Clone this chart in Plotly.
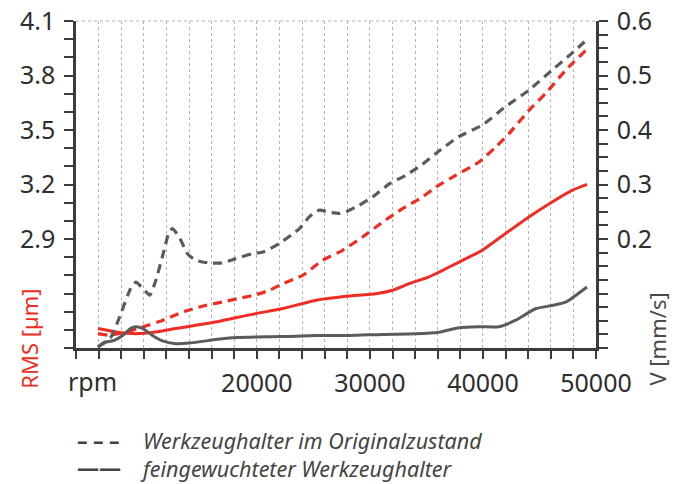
import plotly.graph_objects as go

# ---------------- data ----------------
# Werkzeughalter im Originalzustand, vibration velocity V [mm/s] (grey dashed, right axis)
orig_v_rpm = [5950, 7090, 7820, 8850, 9300, 9880, 10530, 11060, 11790, 12230, 12530, 13120,
              13860, 14590, 15760, 16940, 18120, 19590, 20530, 22000, 23770, 24650, 25530,
              26410, 27290, 27890, 29060, 30230, 31710, 33180, 34650, 35830, 37880, 39940,
              42000, 44060, 46120, 47880, 49200]
orig_v = [0.002, 0.020, 0.055, 0.110, 0.121, 0.110, 0.097, 0.124, 0.179, 0.213, 0.219, 0.204,
          0.173, 0.161, 0.156, 0.156, 0.164, 0.173, 0.176, 0.192, 0.219, 0.241, 0.253,
          0.249, 0.247, 0.250, 0.262, 0.277, 0.301, 0.317, 0.337, 0.357, 0.388, 0.409,
          0.443, 0.473, 0.510, 0.541, 0.566]

# Werkzeughalter im Originalzustand, RMS [µm] (red dashed, left axis)
orig_rms_rpm = [5950, 6940, 8410, 9890, 11650, 13420, 15180, 16940, 18710, 19730, 21120,
                22290, 24060, 25820, 27590, 29350, 31120, 32880, 34650, 35830, 37590, 39650,
                41120, 42300, 44060, 45530, 47300, 49200]
orig_rms = [2.379, 2.370, 2.388, 2.416, 2.452, 2.498, 2.530, 2.553, 2.577, 2.590, 2.618,
            2.654, 2.700, 2.783, 2.838, 2.911, 2.993, 3.067, 3.131, 3.186, 3.250, 3.324,
            3.406, 3.480, 3.608, 3.700, 3.828, 3.945]

# feingewuchteter Werkzeughalter, RMS [µm] (red solid, left axis)
fine_rms_rpm = [5950, 7530, 9290, 11060, 12820, 14590, 16350, 18120, 19880, 22290, 25240,
                27890, 30530, 32000, 33470, 35240, 36120, 37880, 39940, 42000, 44060,
                46120, 47880, 49200]
fine_rms = [2.407, 2.388, 2.379, 2.388, 2.407, 2.425, 2.443, 2.467, 2.489, 2.517, 2.563,
            2.585, 2.599, 2.618, 2.654, 2.692, 2.718, 2.773, 2.838, 2.930, 3.021,
            3.104, 3.168, 3.201]

# feingewuchteter Werkzeughalter, V [mm/s] (grey solid, right axis)
fine_v_rpm = [5920, 6650, 7380, 8120, 8850, 9290, 9890, 10770, 11650, 12820, 14000, 15760,
              17830, 19880, 22290, 25240, 28180, 31120, 34060, 36120, 37880, 39650, 41410,
              42890, 44650, 46120, 47300, 49200]
fine_v = [0.002, 0.011, 0.014, 0.023, 0.036, 0.039, 0.036, 0.023, 0.013, 0.008, 0.009, 0.014,
          0.019, 0.020, 0.021, 0.023, 0.023, 0.025, 0.026, 0.029, 0.037, 0.039, 0.039,
          0.051, 0.072, 0.078, 0.084, 0.112]

x_labels = {20000: "20000", 30000: "30000", 40000: "40000", 50000: "50000"}
left_labels = {2.9: "2.9", 3.2: "3.2", 3.5: "3.5", 3.8: "3.8", 4.1: "4.1"}
right_labels = {0.2: "0.2", 0.3: "0.3", 0.4: "0.4", 0.5: "0.5", 0.6: "0.6"}

legend_orig = "Werkzeughalter im Originalzustand"
legend_fine = "feingewuchteter Werkzeughalter"

# ---------------- styling ----------------
RED = "#ee2e24"
GREY = "#5b5b5b"
AXIS = "#3c3c3c"
TXT = "#2e2e2e"
FONT = "Noto Sans"

fig = go.Figure()
fig.add_trace(go.Scatter(x=orig_v_rpm, y=orig_v, yaxis="y2", mode="lines",
                         line=dict(color=GREY, width=3.2, dash="9px,6px", shape="spline", smoothing=0.5),
                         showlegend=False, hoverinfo="skip"))
fig.add_trace(go.Scatter(x=orig_rms_rpm, y=orig_rms, yaxis="y", mode="lines",
                         line=dict(color=RED, width=3.2, dash="9px,6px", shape="spline", smoothing=0.5),
                         showlegend=False, hoverinfo="skip"))
fig.add_trace(go.Scatter(x=fine_v_rpm, y=fine_v, yaxis="y2", mode="lines",
                         line=dict(color=GREY, width=3, shape="spline", smoothing=0.6),
                         showlegend=False, hoverinfo="skip"))
fig.add_trace(go.Scatter(x=fine_rms_rpm, y=fine_rms, yaxis="y", mode="lines",
                         line=dict(color=RED, width=3, shape="spline", smoothing=0.5),
                         showlegend=False, hoverinfo="skip"))

x_ticks = list(range(4000, 50001, 2000))
left_ticks = [round(2.3 + 0.1 * i, 2) for i in range(19)]
right_ticks = [round(0.025 * i, 3) for i in range(25)]

def lab(d, v):
    for k, s in d.items():
        if abs(k - v) < 1e-6:
            return s
    return ""

tickfont = dict(family=FONT, size=25, color=TXT)

fig.update_layout(
    width=681, height=484, autosize=False,
    margin=dict(l=76, r=85, t=21, b=136, pad=0),
    paper_bgcolor="white", plot_bgcolor="white",
    showlegend=False,
    xaxis=dict(range=[4000, 50000], tickvals=x_ticks, ticktext=[lab(x_labels, v) for v in x_ticks],
               ticks="outside", ticklen=8, tickwidth=2, tickcolor=AXIS,
               showline=True, linecolor=AXIS, linewidth=2.5,
               showgrid=True, gridcolor="#b3b3b3", gridwidth=1, griddash="3px,3px",
               zeroline=False, tickfont=tickfont, ticklabelstandoff=3, fixedrange=True,
               automargin=False),
    yaxis=dict(range=[2.3, 4.1], tickvals=left_ticks, ticktext=[lab(left_labels, v) for v in left_ticks],
               ticks="outside", ticklen=9, tickwidth=2, tickcolor=AXIS,
               showline=True, linecolor=AXIS, linewidth=2.5, showgrid=False, zeroline=False,
               tickfont=tickfont, ticklabelstandoff=4, fixedrange=True, automargin=False),
    yaxis2=dict(range=[0, 0.6], overlaying="y", side="right", anchor="x",
                tickvals=right_ticks, ticktext=[lab(right_labels, v) for v in right_ticks],
                ticks="outside", ticklen=9, tickwidth=2, tickcolor=AXIS,
                showline=True, linecolor=AXIS, linewidth=2.5, showgrid=False, zeroline=False,
                tickfont=tickfont, ticklabelstandoff=4, fixedrange=True, automargin=False),
)

# dotted top frame line
fig.add_shape(type="line", xref="paper", yref="paper", x0=0, x1=1, y0=1, y1=1,
              line=dict(color="#b3b3b3", width=1, dash="3px,3px"), layer="below")

ann_font = dict(family=FONT, size=25, color=TXT)
fig.add_annotation(text="rpm", xref="x", yref="paper", x=5500, y=-0.102,
                   xanchor="center", yanchor="middle", showarrow=False, font=ann_font)
fig.add_annotation(text="RMS [µm]", xref="paper", yref="paper", x=-0.092, y=-0.13,
                   xanchor="center", yanchor="bottom", textangle=-90, showarrow=False,
                   font=dict(family=FONT, size=22, color=RED))
fig.add_annotation(text="V [mm/s]", xref="paper", yref="paper", x=1.117, y=-0.12,
                   xanchor="center", yanchor="bottom", textangle=-90, showarrow=False,
                   font=dict(family=FONT, size=22, color="#4a4a4a"))

# legend (symbols + labels as two-line texts)
NB = "\u00a0"
sym_text = ("<b>–" + NB + "–" + NB + "–</b><br>"
            "<span style='font-size:22px'><b>——</b></span>")
fig.add_annotation(text=sym_text, xref="paper", yref="paper", x=0.0, y=-0.327,
                   xanchor="left", yanchor="middle", align="left", showarrow=False,
                   borderpad=0, font=dict(family=FONT, size=21, color="#444444"))
fig.add_annotation(text=legend_orig + "<br>" + legend_fine, xref="paper", yref="paper",
                   x=0.121, y=-0.327, xanchor="left", yanchor="middle", align="left",
                   showarrow=False, borderpad=0,
                   font=dict(family=FONT, size=21.5, color="#444444", style="italic"))

fig.write_html("out.html", config={"displayModeBar": False},
               post_script="document.body.style.margin='0';document.body.style.padding='0';")
